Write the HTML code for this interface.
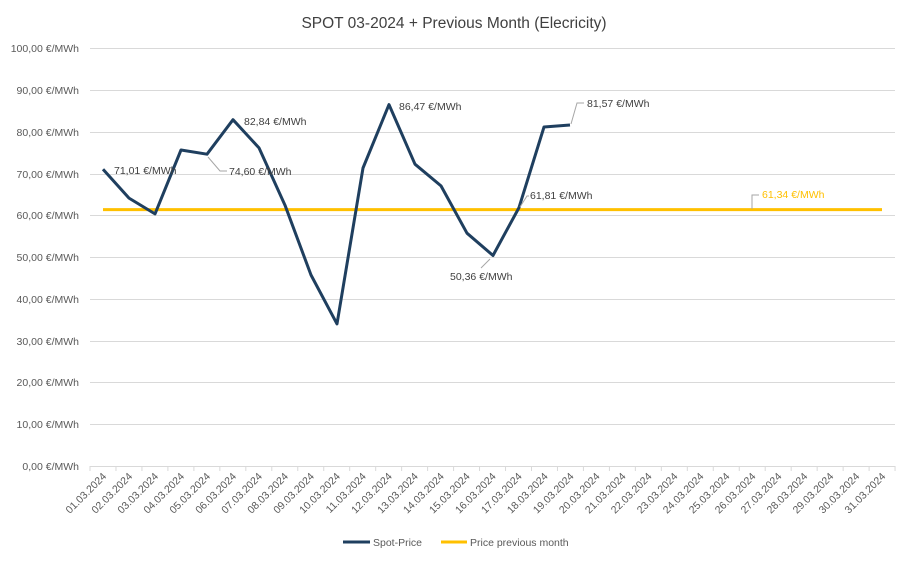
<!DOCTYPE html>
<html><head><meta charset="utf-8"><style>
body{margin:0;background:#fff}
svg{display:block;font-family:"Liberation Sans",sans-serif}
</style></head><body>
<svg width="909" height="563" xmlns="http://www.w3.org/2000/svg">
<rect width="909" height="563" fill="#fff"/>
<text x="454" y="28" text-anchor="middle" font-size="15.5" fill="#404040">SPOT 03-2024 + Previous Month (Elecricity)</text>
<g stroke="#d9d9d9" stroke-width="1">
<line x1="90" y1="48.5" x2="895" y2="48.5"/><line x1="90" y1="90.5" x2="895" y2="90.5"/>
<line x1="90" y1="132.5" x2="895" y2="132.5"/><line x1="90" y1="174.5" x2="895" y2="174.5"/>
<line x1="90" y1="215.5" x2="895" y2="215.5"/><line x1="90" y1="257.5" x2="895" y2="257.5"/>
<line x1="90" y1="299.5" x2="895" y2="299.5"/><line x1="90" y1="341.5" x2="895" y2="341.5"/>
<line x1="90" y1="382.5" x2="895" y2="382.5"/><line x1="90" y1="424.5" x2="895" y2="424.5"/>
<line x1="90" y1="466.5" x2="895" y2="466.5"/>
</g>
<g font-size="10.5" fill="#595959" text-anchor="end">
<text x="79" y="52">100,00 €/MWh</text><text x="79" y="94">90,00 €/MWh</text>
<text x="79" y="136">80,00 €/MWh</text><text x="79" y="178">70,00 €/MWh</text>
<text x="79" y="219">60,00 €/MWh</text><text x="79" y="261">50,00 €/MWh</text>
<text x="79" y="303">40,00 €/MWh</text><text x="79" y="345">30,00 €/MWh</text>
<text x="79" y="386">20,00 €/MWh</text><text x="79" y="428">10,00 €/MWh</text>
<text x="79" y="470">0,00 €/MWh</text>
</g>
<g id="ticks" stroke="#d9d9d9"></g>
<g id="xl" font-size="10.5" fill="#595959" text-anchor="end"></g>
<script>
var t=document.getElementById('ticks'),xl=document.getElementById('xl'),ns="http://www.w3.org/2000/svg";
for(var i=0;i<=31;i++){var x=90+i*25.97;var l=document.createElementNS(ns,'line');l.setAttribute('x1',x);l.setAttribute('x2',x);l.setAttribute('y1',466);l.setAttribute('y2',471);t.appendChild(l);}
for(var i=1;i<=31;i++){var x=90+(i-0.5)*25.97+4,y=477;var e=document.createElementNS(ns,'text');e.setAttribute('x',x);e.setAttribute('y',y);e.setAttribute('transform','rotate(-45 '+x+' '+y+')');e.textContent=(i<10?'0':'')+i+'.03.2024';xl.appendChild(e);}
</script>
<line x1="103" y1="209.6" x2="882" y2="209.6" stroke="#ffc000" stroke-width="3"/>
<polyline fill="none" stroke="#1f3f5f" stroke-width="3" stroke-linejoin="round" points="103,169.2 129,198.1 155,213.9 181,150 207,154.2 233,119.7 259,147.9 285,205.2 311,275 337,323.9 363,168 389,104.6 415,164.2 441,185.9 467,233.2 493,255.5 519,207.6 544,127 570,125"/>
<g stroke="#a6a6a6" fill="none" stroke-width="1">
<polyline points="208,157 220,171 227,171"/>
<polyline points="490,259 481,268"/>
<polyline points="520,207 527,196 529,196"/>
<polyline points="571,124 577,103 584,103"/>
<polyline points="752,209 752,195 759,195"/>
</g>
<g font-size="10.5" fill="#404040">
<text x="114" y="174">71,01 €/MWh</text>
<text x="229" y="175">74,60 €/MWh</text>
<text x="244" y="125">82,84 €/MWh</text>
<text x="399" y="110">86,47 €/MWh</text>
<text x="450" y="280">50,36 €/MWh</text>
<text x="530" y="199">61,81 €/MWh</text>
<text x="587" y="107">81,57 €/MWh</text>
<text x="762" y="198" fill="#ffc000">61,34 €/MWh</text>
</g>
<line x1="343" y1="542" x2="370" y2="542" stroke="#1f3f5f" stroke-width="3"/>
<text x="373" y="546" font-size="10.5" fill="#595959">Spot-Price</text>
<line x1="441" y1="542" x2="467" y2="542" stroke="#ffc000" stroke-width="3"/>
<text x="470" y="546" font-size="10.5" fill="#595959">Price previous month</text>
</svg>
</body></html>
